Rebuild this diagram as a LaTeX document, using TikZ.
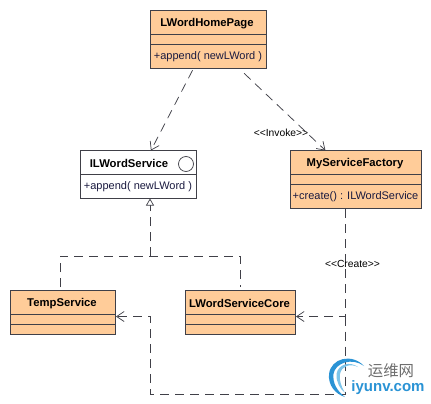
\documentclass[tikz,border=0pt]{standalone}
\usepackage{fontspec}
\setmainfont{Liberation Sans}
\newfontfamily\cjk{Noto Sans CJK SC}
\usetikzlibrary{arrows.meta}
\definecolor{umlfill}{HTML}{FFCC99}
\definecolor{umlline}{HTML}{404048}
\definecolor{umltext}{HTML}{1A1A40}
\definecolor{wmblue}{HTML}{2A93D5}
\definecolor{wmlight}{HTML}{7CC4EA}
\definecolor{wmgray}{HTML}{6E6E6E}
\tikzset{
  x=1pt,y=-1pt,
  umlbox/.style={draw=umlline,line width=0.9pt,fill=umlfill,inner sep=0pt,outer sep=0pt},
  whitebox/.style={umlbox,fill=white},
  title/.style={font=\fontsize{11.3}{13}\selectfont\bfseries,inner sep=0pt,text=black},
  method/.style={font=\fontsize{11}{13}\selectfont,inner sep=0pt,text=umltext},
  divider/.style={draw=umlline,line width=0.8pt},
  dep/.style={draw=umlline,line width=0.75pt,dash pattern=on 9pt off 6pt},
  openarrow/.style={-{Straight Barb[length=7.5pt,width=10pt,line width=0.7pt]}},
  hollow/.style={-{Triangle[open,length=7pt,width=8pt,line width=0.7pt,fill=white]}},
  stereo/.style={font=\fontsize{10.3}{12}\selectfont,inner sep=0pt,text=black}
}
\begin{document}
\begin{tikzpicture}
\useasboundingbox (0,0) rectangle (431,404);
\fill[white] (0,0) rectangle (431,404);
% boxes
\node[umlbox,minimum width=116pt,minimum height=58pt] (home) at (208.5,39.5) {};
\node[whitebox,minimum width=116pt,minimum height=48pt] (iface) at (138.5,174.5) {};
\node[umlbox,minimum width=131pt,minimum height=58pt] (factory) at (356,179.5) {};
\node[umlbox,minimum width=105pt,minimum height=44pt] (temp) at (63,312.5) {};
\node[umlbox,minimum width=110pt,minimum height=44pt] (core) at (240.5,312.5) {};
% dividers
\draw[divider] (150.5,34.5) -- (266.5,34.5) (150.5,44.5) -- (266.5,44.5);
\draw[divider] (80.5,174.5) -- (196.5,174.5);
\draw[divider] (290.5,174.5) -- (421.5,174.5) (290.5,184.5) -- (421.5,184.5);
\draw[divider] (10.5,314.5) -- (115.5,314.5) (10.5,324.5) -- (115.5,324.5);
\draw[divider] (185.5,314.5) -- (295.5,314.5) (185.5,324.5) -- (295.5,324.5);
% texts
\node[title] (t1) at (207,23.5) {LWordHomePage};
\node[method] (m1) at (208,57) {+append( newLWord )};
\node[title] (t2) at (129,163.5) {ILWordService};
\node[method] (m2) at (138,187) {+append( newLWord )};
\node[draw=umlline,line width=0.7pt,fill=white,circle,minimum size=15pt,inner sep=0pt] (ball) at (186,164) {};
\node[title] (t3) at (355,163.5) {MyServiceFactory};
\node[method] (m3) at (355.5,197) {+create() : ILWordService};
\node[title] (t4) at (62,303.5) {TempService};
\node[title] (t5) at (239.5,303.5) {LWordServiceCore};
% connectors
\coordinate (ifaceB) at (150,198.5);
\coordinate (joint) at (150,256);
\coordinate (tempT) at (60,287);
\coordinate (coreT) at (240,287);
\coordinate (factB) at (345.5,209);
\coordinate (coreBend) at (345.5,316.5);
\coordinate (coreR) at (296,316.5);
\coordinate (tempR) at (116,316.5);
\coordinate (lowR) at (345.5,394.5);
\coordinate (lowL) at (150.5,394.5);
\coordinate (tempBend) at (150.5,316.5);
\draw[dep,openarrow,shorten <=2pt] (home) -- (iface);
\draw[dep,openarrow,shorten <=7pt] (home) -- (factory);
\draw[dep,hollow] (joint) -- (ifaceB);
\draw[dep] (tempT) -- (tempT |- joint) -- (coreT |- joint) -- (coreT);
\draw[dep,openarrow] (factB) -- (coreBend) -- (coreR);
\draw[dep,openarrow] (coreBend) -- (lowR) -- (lowL) -- (tempBend) -- (tempR);
% labels
\node[stereo] (invoke) at (281,133) {<{}<Invoke>{}>};
\node[stereo] (create) at (352.5,264) {<{}<Create>{}>};
% watermark
\fill[wmblue] (364,366) .. controls (352,353) and (331,358) .. (329,374)
  .. controls (328,385) and (335,394) .. (345,397)
  .. controls (337,391) and (332.5,383) .. (333.5,374)
  .. controls (335,363) and (352,357) .. (364,366) -- cycle;
\fill[wmlight] (358,367) .. controls (350,361) and (338,364) .. (336.5,374)
  .. controls (336,382) and (340,389) .. (345,393)
  .. controls (341,386) and (339,380) .. (340,374)
  .. controls (341.5,366) and (350,363) .. (358,367) -- cycle;
\node[font=\cjk\fontsize{15.4}{17}\selectfont,text=wmgray,inner sep=0pt] (wm1) at (391,370.5) {运维网};
\node[font=\fontsize{15}{17}\selectfont\bfseries,text=wmblue,inner sep=0pt] (wm2) at (388,388) {iyunv.com};
\end{tikzpicture}
\end{document}
